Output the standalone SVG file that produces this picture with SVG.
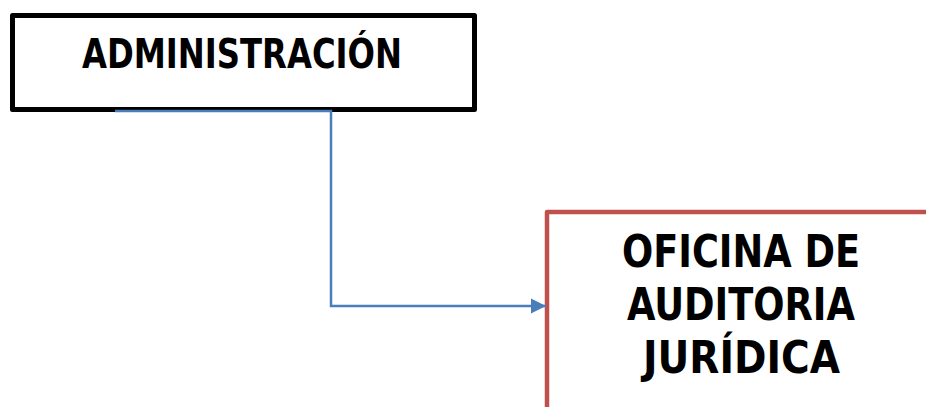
<svg xmlns="http://www.w3.org/2000/svg" width="926" height="407" viewBox="0 0 926 407">
<style>
.t{font-family:"Liberation Sans Narrow","DejaVu Sans Condensed","Liberation Sans",sans-serif;font-weight:bold;fill:#000;text-anchor:middle}
.conn{fill:none;stroke:#4A7EBB;stroke-width:2.5}
</style>
<defs>
<marker id="ah" viewBox="0 0 10 10" refX="10" refY="5" markerWidth="6" markerHeight="6.4" orient="auto" markerUnits="strokeWidth">
<path d="M0,0 L10,5 L0,10 z" fill="#4A7EBB"/>
</marker>
</defs>
<rect width="926" height="407" fill="#fff"/>
<g id="node-administracion">
<rect x="12.5" y="15.5" width="462" height="94" fill="#fff" stroke="#000" stroke-width="5" stroke-linejoin="round"/>
<text class="t" x="242" y="68" font-size="40" textLength="320" lengthAdjust="spacingAndGlyphs">ADMINISTRACIÓN</text>
</g>
<g id="node-oficina">
<rect x="547" y="212" width="400" height="220" fill="#fff" stroke="#C0504D" stroke-width="4.5" stroke-linejoin="round"/>
<text class="t" x="741" y="267" font-size="45" textLength="238" lengthAdjust="spacingAndGlyphs">OFICINA DE</text>
<text class="t" x="741" y="320" font-size="45" textLength="228" lengthAdjust="spacingAndGlyphs">AUDITORIA</text>
<text class="t" x="741.5" y="373" font-size="45" textLength="197" lengthAdjust="spacingAndGlyphs">JURÍDICA</text>
</g>
<g id="connectors">
<path class="conn" d="M115,111 H331 V306 H546" marker-end="url(#ah)"/>
</g>
</svg>
